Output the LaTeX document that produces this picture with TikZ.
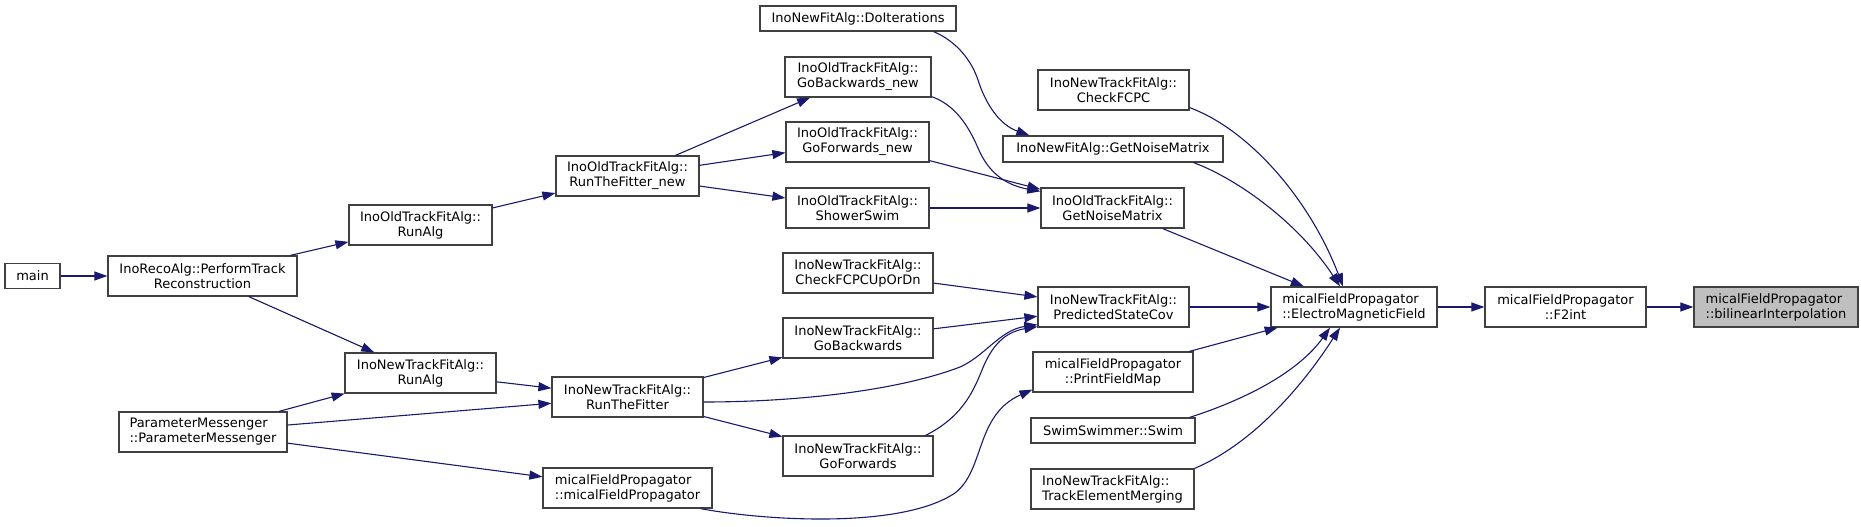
\documentclass[tikz,border=0pt]{standalone}
\usepackage{fontspec}
\setmainfont{DejaVu Sans}
\usetikzlibrary{arrows.meta}
\definecolor{edgec}{HTML}{191970}
\definecolor{boxc}{HTML}{404040}
\definecolor{selc}{HTML}{BFBFBF}
\begin{document}
\begin{tikzpicture}[x=1pt,y=-1pt,
  box/.style={draw=boxc, fill=white, line width=1.2pt, inner sep=0pt, align=center,
    font=\fontsize{13}{15}\selectfont, minimum height=40pt},
  lbox/.style={box, align=left},
  edge/.style={draw=edgec, line width=1.1pt, -{Triangle[length=13pt,width=9pt]}}]
\useasboundingbox (0,0) rectangle (1861,527);
% nodes
\node[box, minimum width=55pt, minimum height=25pt] (main) at (32.5,276) {main};
\node[box, minimum width=189pt] (prt) at (202.5,276) {InoRecoAlg::PerformTrack\\Reconstruction};
\node[lbox, minimum width=168pt] (pm) at (203,432) {ParameterMessenger\\::ParameterMessenger};
\node[box, minimum width=143pt] (ora) at (420.5,225) {InoOldTrackFitAlg::\\RunAlg};
\node[box, minimum width=143pt] (ortf) at (627.5,176) {InoOldTrackFitAlg::\\RunTheFitter\_new};
\node[box, minimum width=151pt] (nra) at (420.5,373) {InoNewTrackFitAlg::\\RunAlg};
\node[box, minimum width=151pt] (nrtf) at (627.5,397) {InoNewTrackFitAlg::\\RunTheFitter};
\node[lbox, minimum width=169pt] (mfpc) at (627.5,488) {micalFieldPropagator\\::micalFieldPropagator};
\node[box, minimum width=196pt, minimum height=25pt] (doit) at (858,18.5) {InoNewFitAlg::DoIterations};
\node[box, minimum width=146pt] (gbn) at (858,77) {InoOldTrackFitAlg::\\GoBackwards\_new};
\node[box, minimum width=143pt] (gfn) at (857.5,142) {InoOldTrackFitAlg::\\GoForwards\_new};
\node[box, minimum width=143pt] (ss) at (857.5,208) {InoOldTrackFitAlg::\\ShowerSwim};
\node[box, minimum width=150pt] (cud) at (858,273) {InoNewTrackFitAlg::\\CheckFCPCUpOrDn};
\node[box, minimum width=150pt] (gb) at (858,338) {InoNewTrackFitAlg::\\GoBackwards};
\node[box, minimum width=150pt] (gf) at (858,456) {InoNewTrackFitAlg::\\GoForwards};
\node[box, minimum width=151pt] (cfcpc) at (1113.5,90) {InoNewTrackFitAlg::\\CheckFCPC};
\node[box, minimum width=220pt, minimum height=26pt] (nfgn) at (1113,149) {InoNewFitAlg::GetNoiseMatrix};
\node[box, minimum width=143pt] (ogn) at (1112.5,208) {InoOldTrackFitAlg::\\GetNoiseMatrix};
\node[box, minimum width=151pt] (psc) at (1113.5,307) {InoNewTrackFitAlg::\\PredictedStateCov};
\node[box, minimum width=160pt] (pfm) at (1113,372) {micalFieldPropagator\\::PrintFieldMap};
\node[box, minimum width=164pt, minimum height=25pt] (swim) at (1113,430.5) {SwimSwimmer::Swim};
\node[lbox, minimum width=163pt] (tem) at (1112.5,489) {InoNewTrackFitAlg::\\TrackElementMerging};
\node[lbox, minimum width=166pt] (emf) at (1354,307) {micalFieldPropagator\\::ElectroMagneticField};
\node[box, minimum width=161pt] (f2) at (1565.5,307) {micalFieldPropagator\\::F2int};
\node[lbox, minimum width=164pt, fill=selc] (bil) at (1776,307) {micalFieldPropagator\\::bilinearInterpolation};
% straight edges
\draw[edge] (main) -- (prt);
\draw[edge] (prt) -- (ora);
\draw[edge] (prt) -- (nra);
\draw[edge] (pm) -- (nra);
\draw[edge] (pm) -- (nrtf);
\draw[edge] (pm) -- (mfpc);
\draw[edge] (ora) -- (ortf);
\draw[edge] (ortf) -- (gbn);
\draw[edge] (ortf) -- (gfn);
\draw[edge] (ortf) -- (ss);
\draw[edge] (nra) -- (nrtf);
\draw[edge] (nrtf) -- (gb);
\draw[edge] (nrtf) -- (gf);
\draw[edge] (cud) -- (psc);
\draw[edge] (gb) -- (psc);
\draw[edge] (gfn) -- (ogn);
\draw[edge] (ss) -- (ogn);
\draw[edge] (ogn) -- (emf);
\draw[edge] (psc) -- (emf);
\draw[edge] (pfm) -- (emf);
\draw[edge] (emf) -- (f2);
\draw[edge] (f2) -- (bil);
% curved edges
\draw[edge] ([yshift=-5pt]nrtf.east) .. controls (800,402) and (900,390) .. (960,367)
  .. controls (985,356) and (1000,330) .. ([yshift=3pt]psc.south west);
\draw[edge] ([xshift=-8pt]gf.north east) .. controls (960,418) and (972,395) .. (982,370)
  .. controls (992,345) and (1005,332) .. ([yshift=1pt]psc.south west);
\draw[edge] ([xshift=-12pt]mfpc.south east) .. controls (760,520) and (900,530) .. (955,493)
  .. controls (985,470) and (975,415) .. ([yshift=3pt]pfm.south west);
\draw[edge] ([xshift=-23pt]doit.south east) .. controls (958,42) and (972,62) .. (978,80)
  .. controls (986,105) and (1000,125) .. ([xshift=27pt]nfgn.north west);
\draw[edge] ([yshift=1pt]gbn.south east) .. controls (955,105) and (968,125) .. (978,148)
  .. controls (988,172) and (1005,185) .. ([yshift=-4pt]ogn.north west);
\draw[edge] ([yshift=3pt]cfcpc.south east) .. controls (1250,130) and (1310,200) .. ([xshift=-11pt]emf.north);
\draw[edge] ([xshift=-30pt]nfgn.south east) .. controls (1240,180) and (1300,225) .. ([xshift=-14pt]emf.north);
\draw[edge] ([xshift=-6pt]swim.north east) .. controls (1250,398) and (1300,370) .. ([xshift=-24pt]emf.south);
\draw[edge] (tem.north east) .. controls (1250,445) and (1300,390) .. ([xshift=-14pt]emf.south);
\end{tikzpicture}
\end{document}
